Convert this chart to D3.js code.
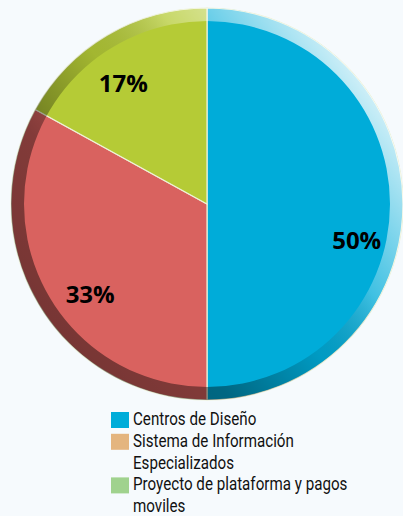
<!DOCTYPE html>
<html>
<head>
<meta charset="utf-8">
<script src="https://d3js.org/d3.v7.min.js"></script>
<style>
  body { margin: 0; background: #f6fafd; }
  svg { display: block; }
</style>
</head>
<body>
<div id="chart"></div>
<script>
  // data
  const categories = ["Centros de Diseño", "Sistema de Información Especializados", "Proyecto de plataforma y pagos moviles"];
  const values = [50, 33, 17];
  const sliceColors = ["#00acd9", "#d9625f", "#b5cb36"];
  const legendLines = [["Centros de Diseño"], ["Sistema de Información", "Especializados"], ["Proyecto de plataforma y pagos", "moviles"]];
  const legendColors = ["#00acd9", "#e4b57f", "#a0d28e"];

  const w = 403, h = 516;
  const cx = 207, cy = 204, r = 196;

  const svg = d3.select("#chart").append("svg")
      .attr("width", w)
      .attr("height", h);

  const defs = svg.append("defs");
  const grad = defs.append("linearGradient")
      .attr("id", "rim")
      .attr("x1", "0.9").attr("y1", "0.2")
      .attr("x2", "0.1").attr("y2", "0.8");
  grad.append("stop").attr("offset", "0").attr("stop-color", "#fff").attr("stop-opacity", 0.8);
  grad.append("stop").attr("offset", "0.3").attr("stop-color", "#fff").attr("stop-opacity", 0.25);
  grad.append("stop").attr("offset", "0.5").attr("stop-color", "#000").attr("stop-opacity", 0.1);
  grad.append("stop").attr("offset", "0.75").attr("stop-color", "#000").attr("stop-opacity", 0.4);
  grad.append("stop").attr("offset", "1").attr("stop-color", "#000").attr("stop-opacity", 0.45);

  const pie = d3.pie().sort(null).value(d => d);
  const arcs = pie(values);
  const arc = d3.arc().innerRadius(0).outerRadius(r);
  const rim = d3.arc().innerRadius(r - 13).outerRadius(r);

  const g = svg.append("g").attr("transform", "translate(" + cx + "," + cy + ")");

  g.selectAll("path.slice")
    .data(arcs)
    .enter()
    .append("path")
    .attr("class", "slice")
    .attr("d", arc)
    .attr("fill", (d, i) => sliceColors[i])
    .attr("stroke", "#eef2d8")
    .attr("stroke-width", 1.2);

  // bevel around the edge
  g.append("path")
    .attr("d", rim({ startAngle: 0, endAngle: 2 * Math.PI }))
    .attr("fill", "url(#rim)");

  // percentage labels
  const labelArc = d3.arc().innerRadius(150).outerRadius(150);
  g.selectAll("text.pct")
    .data(arcs)
    .enter()
    .append("text")
    .attr("class", "pct")
    .attr("transform", d => {
      const nudge = d.index === 0 ? 0.24 : (d.index === 1 ? -0.1 : -0.09);
      const a = (d.startAngle + d.endAngle) / 2 + nudge;
      const p = labelArc.centroid({ startAngle: a, endAngle: a });
      return "translate(" + (p[0] + 4) + "," + (p[1] + 1) + ")";
    })
    .attr("text-anchor", "middle")
    .attr("dy", "0.36em")
    .style("font-family", "'Open Sans', sans-serif")
    .style("font-weight", "bold")
    .style("font-size", "24px")
    .attr("fill", "#000")
    .text(d => Math.round(d.data) + "%");

  // legend
  const lineH = 21.8;
  let row = 0;
  const legend = svg.append("g").attr("transform", "translate(111,409)");
  categories.forEach((c, i) => {
    const item = legend.append("g").attr("transform", "translate(0," + (row * lineH) + ")");
    item.append("rect")
      .attr("x", 0).attr("y", 3)
      .attr("width", 18).attr("height", 16)
      .attr("fill", legendColors[i]);
    item.append("g")
      .attr("transform", "translate(22,0) scale(0.82,1)")
      .selectAll("text")
      .data(legendLines[i])
      .enter()
      .append("text")
      .attr("x", 0)
      .attr("y", (d, j) => 16 + j * lineH)
      .style("font-family", "Roboto, sans-serif")
      .style("font-size", "18.5px")
      .attr("fill", "#111")
      .text(d => d);
    row += legendLines[i].length;
  });
</script>
</body>
</html>
